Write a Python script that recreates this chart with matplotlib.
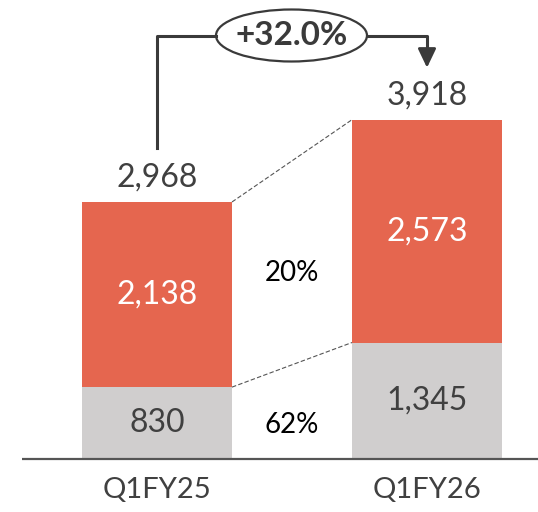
import matplotlib.pyplot as plt
from matplotlib.patches import Ellipse

plt.rcParams["font.family"] = ["Lato", "DejaVu Sans"]

categories = ["Q1FY25", "Q1FY26"]
lower_vals = [830, 1345]
upper_vals = [2138, 2573]
growth_labels = ["20%", "62%"]
change_label = "+32.0%"

ORANGE = "#E5664F"
GREY = "#D0CECE"
TEXT = "#404040"
LINE = "#3a3a3a"

totals = [lo + up for lo, up in zip(lower_vals, upper_vals)]
x = [0, 1]
width = 150 / 270

fig = plt.figure(figsize=(5.38, 5.12), dpi=100)
ax = fig.add_axes([0, 0, 1, 1])
ax.set_xlim(-157 / 270, (538 - 157) / 270)
px = 0.0866  # pixels per unit
ax.set_ylim(-53 / px, 459 / px)
ax.axis("off")

ax.bar(x, lower_vals, width, color=GREY, linewidth=0)
ax.bar(x, upper_vals, width, bottom=lower_vals, color=ORANGE, linewidth=0)

# baseline
ax.plot([(22 - 157) / 270, (538 - 157) / 270], [0, 0], color="#555555", lw=1.6,
        solid_capstyle="butt")

FS = 23
for i in range(2):
    ax.text(x[i], lower_vals[i] / 2, f"{lower_vals[i]:,}", ha="center", va="center",
            fontsize=FS, color=TEXT)
    ax.text(x[i], lower_vals[i] + upper_vals[i] / 2, f"{upper_vals[i]:,}", ha="center",
            va="center", fontsize=FS, color="white")
    ax.text(x[i], totals[i] + 24 / px, f"{totals[i]:,}", ha="center", va="center",
            fontsize=FS, color=TEXT)
    ax.text(x[i], -31 / px, categories[i], ha="center", va="center",
            fontsize=21, color=TEXT)

# dashed connectors
r = x[0] + width / 2
l = x[1] - width / 2
ax.plot([r, l], [totals[0], totals[1]], ls=(0, (4, 2)), color="#555555", lw=0.8)
ax.plot([r, l], [lower_vals[0], lower_vals[1]], ls=(0, (4, 2)), color="#555555", lw=0.8)

mid = (x[0] + x[1]) / 2
top_mid = (totals[0] + totals[1]) / 2
low_mid = (lower_vals[0] + lower_vals[1]) / 2
ax.text(mid, (top_mid + low_mid) / 2 - 120, growth_labels[0], ha="center", va="center",
        fontsize=20, color="black")
ax.text(mid, lower_vals[0] / 2 - 20, growth_labels[1], ha="center", va="center",
        fontsize=20, color="black")

# growth bracket
y_top = (459 - 35.5) / px
y_start = totals[0] + 54 / px
y_tip = totals[1] + 52 / px
ex = (291.5 - 157) / 270
ew = 151 / 270
eh = 52 / px
ax.plot([x[0], x[0], ex - ew / 2], [y_start, y_top, y_top], color=LINE, lw=2.2)
ax.plot([ex + ew / 2, x[1], x[1]], [y_top, y_top, y_tip + 14 / px], color=LINE, lw=2.2)
ax.annotate("", xy=(x[1], y_tip), xytext=(x[1], y_tip + 17 / px),
            arrowprops=dict(arrowstyle="-|>,head_length=1.15,head_width=0.55",
                            color=LINE, lw=2, shrinkA=0, shrinkB=0))
ax.add_patch(Ellipse((ex, y_top), ew, eh, facecolor="white", edgecolor=LINE, lw=1.6))
ax.text(ex, y_top, change_label, ha="center", va="center", fontsize=24,
        color=LINE, fontweight="bold")

fig.savefig("out.png", dpi=100)
